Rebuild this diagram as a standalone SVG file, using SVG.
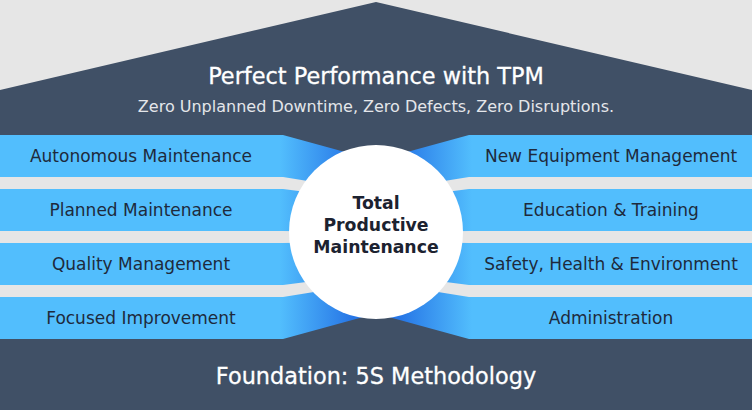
<svg xmlns="http://www.w3.org/2000/svg" width="752" height="410" viewBox="0 0 752 410">
  <defs>
    <linearGradient id="gl" gradientUnits="userSpaceOnUse" x1="280" y1="0" x2="352" y2="0">
      <stop offset="0" stop-color="#52befd"/>
      <stop offset="1" stop-color="#2776e6"/>
    </linearGradient>
    <linearGradient id="gr" gradientUnits="userSpaceOnUse" x1="472" y1="0" x2="400" y2="0">
      <stop offset="0" stop-color="#52befd"/>
      <stop offset="1" stop-color="#2776e6"/>
    </linearGradient>
  </defs>
  <style>
    .house{fill:#405066}
    .gap{fill:#e6e6e6}
    .lbl{font-family:"DejaVu Sans","Liberation Sans",sans-serif;font-size:17px;fill:#1e2a3c;text-anchor:middle}
    .hd{font-family:"DejaVu Sans","Liberation Sans",sans-serif;fill:#ffffff;text-anchor:middle}
    .ctr{font-family:"DejaVu Sans","Liberation Sans",sans-serif;font-size:17.3px;font-weight:bold;fill:#1c2230;text-anchor:middle}
  </style>
  <rect width="752" height="410" fill="#e6e6e6"/>
  <g id="house">
    <polygon class="house" points="0,90 376,2 752,90 752,410 0,410"/>
  </g>
  <g id="roof">
    <text class="hd" x="376" y="83.5" font-size="22.4" stroke="#ffffff" stroke-width="0.3">Perfect Performance with TPM</text>
    <text class="hd" x="376" y="111.5" font-size="16" fill="#e4e6ea" style="fill:#e4e6ea">Zero Unplanned Downtime, Zero Defects, Zero Disruptions.</text>
  </g>
  <g id="connectors">
    <polygon fill="url(#gl)" points="0,135 283,135 376,160.5 376,313.5 283,339 0,339"/>
    <polygon fill="url(#gr)" points="752,135 469,135 376,160.5 376,313.5 469,339 752,339"/>
    <polygon class="gap" points="0,177 283,177 376,192 376,201 283,189 0,189"/>
    <polygon class="gap" points="0,231 283,231 376,232.5 376,241.5 283,243 0,243"/>
    <polygon class="gap" points="0,285 283,285 376,273 376,282 283,297 0,297"/>
    <polygon class="gap" points="752,177 469,177 376,192 376,201 469,189 752,189"/>
    <polygon class="gap" points="752,231 469,231 376,232.5 376,241.5 469,243 752,243"/>
    <polygon class="gap" points="752,285 469,285 376,273 376,282 469,297 752,297"/>
  </g>
  <g id="autonomous-maintenance"><text class="lbl" x="141" y="162">Autonomous Maintenance</text></g>
  <g id="planned-maintenance"><text class="lbl" x="141" y="216">Planned Maintenance</text></g>
  <g id="quality-management"><text class="lbl" x="141" y="270">Quality Management</text></g>
  <g id="focused-improvement"><text class="lbl" x="141" y="324">Focused Improvement</text></g>
  <g id="new-equipment-management"><text class="lbl" x="611" y="162">New Equipment Management</text></g>
  <g id="education-training"><text class="lbl" x="611" y="216">Education &amp; Training</text></g>
  <g id="safety-health-environment"><text class="lbl" x="611" y="270">Safety, Health &amp; Environment</text></g>
  <g id="administration"><text class="lbl" x="611" y="324">Administration</text></g>
  <g id="tpm">
    <circle cx="376" cy="232" r="87" fill="#ffffff"/>
    <text class="ctr" x="376" y="209">Total</text>
    <text class="ctr" x="376" y="231">Productive</text>
    <text class="ctr" x="376" y="253">Maintenance</text>
  </g>
  <g id="foundation">
    <text class="hd" x="376" y="383.5" font-size="22.4" stroke="#ffffff" stroke-width="0.3">Foundation: 5S Methodology</text>
  </g>
</svg>
